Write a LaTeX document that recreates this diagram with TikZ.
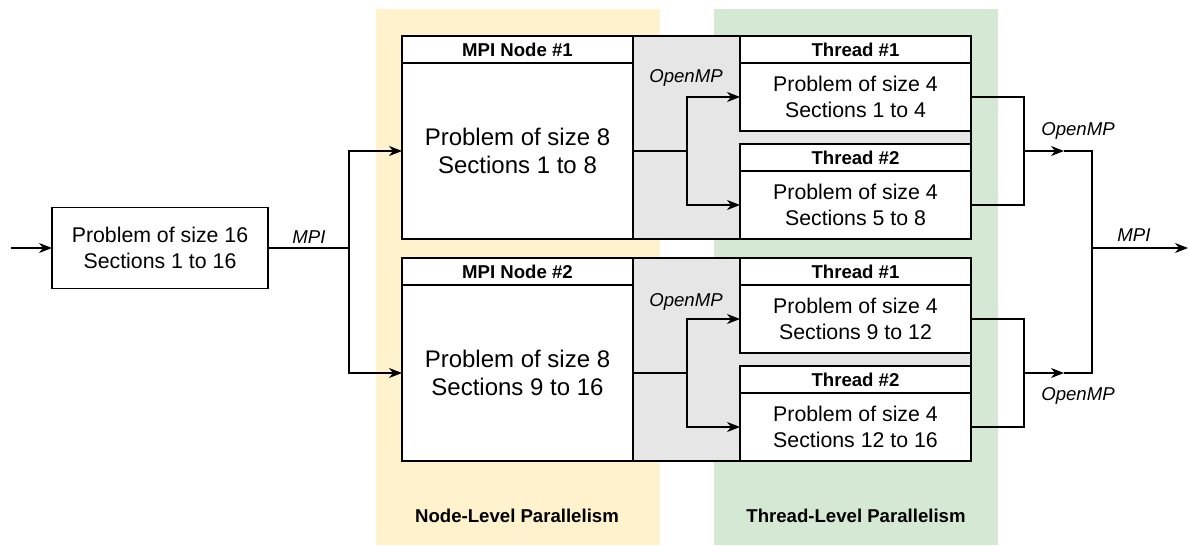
\documentclass[tikz,border=0pt]{standalone}
\usepackage{fontspec}
\setmainfont{Liberation Sans}
\usetikzlibrary{arrows.meta, positioning}

\definecolor{nodebg}{HTML}{FFF2CC}
\definecolor{threadbg}{HTML}{D5E8D4}
\definecolor{ompbg}{HTML}{E6E6E6}

\begin{document}
\begin{tikzpicture}[x=1pt, y=-1pt]

% Define block styles
\tikzstyle{band} = [rectangle, inner sep=0, outer sep=0, minimum width=284, minimum height=536]
\tikzstyle{ompbox} = [rectangle, draw, line width=1.3pt, fill=ompbg, inner sep=0, outer sep=0, minimum width=338, minimum height=203]
\tikzstyle{header} = [rectangle, draw, line width=1.3pt, fill=white, inner sep=0, outer sep=0, minimum width=231, minimum height=27, font=\fontsize{18.6}{22}\selectfont\bfseries]
\tikzstyle{mpibody} = [rectangle, draw, line width=1.3pt, fill=white, inner sep=0, outer sep=0, minimum width=231, minimum height=176, align=center, font=\fontsize{24}{28}\selectfont]
\tikzstyle{threadbody} = [rectangle, draw, line width=1.3pt, fill=white, inner sep=0, outer sep=0, minimum width=231, minimum height=68, align=center, font=\fontsize{21.3}{25.5}\selectfont]
\tikzstyle{block} = [rectangle, draw, line width=1.3pt, fill=white, inner sep=0, outer sep=0, minimum width=216, minimum height=81, align=center, font=\fontsize{21.3}{25.5}\selectfont]
\tikzstyle{lbl} = [inner sep=0, font=\fontsize{18.6}{22}\selectfont\itshape]
\tikzstyle{bandtext} = [inner sep=0, font=\fontsize{18.6}{22}\selectfont\bfseries]
\tikzstyle{line} = [line width=1.1pt]
\tikzstyle{arrow} = [line width=1.1pt, -{Stealth[length=13pt, width=10pt, inset=4pt]}]

\useasboundingbox (0,0) rectangle (1189,546);

% Background bands
\node (nodelevel) [band, fill=nodebg] at (518,277) {};
\node (threadlevel) [band, fill=threadbg] at (856,277) {};
\node (nodelabel) [bandtext] at (517,516) {Node-Level Parallelism};
\node (threadlabel) [bandtext] at (856,516) {Thread-Level Parallelism};

% OpenMP regions
\node (omp1) [ompbox] at (802,137.5) {};
\node (omp2) [ompbox] at (802,359.5) {};

% Nodes
\node (in) [block] at (160,248) {Problem of size 16\\Sections 1 to 16};

\node (n1h) [header] at (517.5,49.5) {MPI Node \#1};
\node (n1) [mpibody, below=0pt of n1h] {Problem of size 8\\Sections 1 to 8};
\node (n2h) [header] at (517.5,271.5) {MPI Node \#2};
\node (n2) [mpibody, below=0pt of n2h] {Problem of size 8\\Sections 9 to 16};

\node (t1h) [header] at (855.5,49.5) {Thread \#1};
\node (t1) [threadbody, below=0pt of t1h] {Problem of size 4\\Sections 1 to 4};
\node (t2h) [header, below=13pt of t1] {Thread \#2};
\node (t2) [threadbody, below=0pt of t2h] {Problem of size 4\\Sections 5 to 8};
\node (t3h) [header] at (855.5,271.5) {Thread \#1};
\node (t3) [threadbody, below=0pt of t3h] {Problem of size 4\\Sections 9 to 12};
\node (t4h) [header, below=13pt of t3] {Thread \#2};
\node (t4) [threadbody, below=0pt of t4h] {Problem of size 4\\Sections 12 to 16};

% Labels
\node (mpiin) [lbl] at (309,237) {MPI};
\node (mpiout) [lbl] at (1134,235) {MPI};
\node (ompin1) [lbl] at (686,78) {OpenMP};
\node (ompin2) [lbl] at (686,302) {OpenMP};
\node (ompout1) [lbl] at (1078,131) {OpenMP};
\node (ompout2) [lbl] at (1078,396) {OpenMP};

% Junctions
\coordinate (start) at (11,248);
\coordinate (split) at (349,248);
\coordinate (fork1) at (687,151);
\coordinate (fork2) at (687,373);
\coordinate (join1) at (1024,151);
\coordinate (join2) at (1024,373);
\coordinate (tip1) at (1064,151);
\coordinate (tip2) at (1064,373);
\coordinate (merge) at (1092,248);
\coordinate (finish) at (1188,248);

% Arrows
\draw [arrow] (start) -- (in);
\draw [line] (in) -- (split);
\draw [arrow] (split) |- (n1);
\draw [arrow] (split) |- (n2);

\draw [line] (n1) -- (fork1);
\draw [arrow] (fork1) |- (t1);
\draw [arrow] (fork1) |- (t2);
\draw [line] (n2) -- (fork2);
\draw [arrow] (fork2) |- (t3);
\draw [arrow] (fork2) |- (t4);

\draw [line] (t1) -| (join1);
\draw [line] (t2) -| (join1);
\draw [line] (t3) -| (join2);
\draw [line] (t4) -| (join2);
\draw [arrow] (join1) -- (tip1);
\draw [arrow] (join2) -- (tip2);
\draw [line] (tip1) -| (merge);
\draw [line] (tip2) -| (merge);
\draw [arrow] (merge) -- (finish);

\end{tikzpicture}
\end{document}
